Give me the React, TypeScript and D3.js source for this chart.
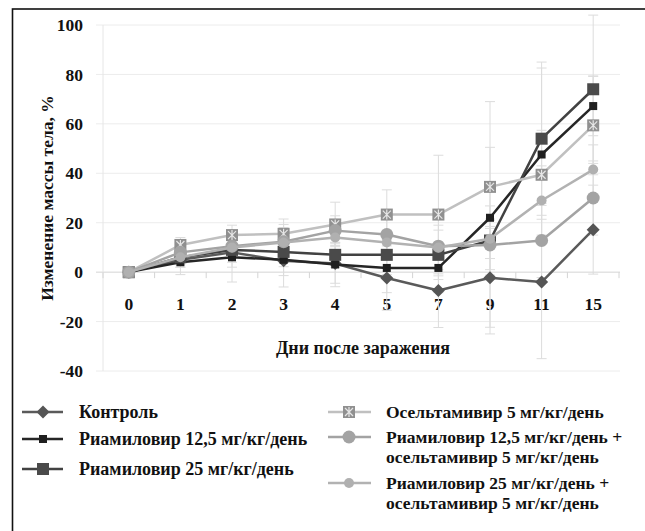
import React from "react";
import * as d3 from "d3";

const days = ["0", "1", "2", "3", "4", "5", "7", "9", "11", "15"];
const yTicks = [-40, -20, 0, 20, 40, 60, 80, 100];

const controlVals = [0, 5, 8, 4.6, 3.5, -2.4, -7.4, -2.3, -4, 17.2];
const riam125Vals = [0, 4, 6, 5, 3.1, 1.7, 1.7, 22, 47.6, 67.2];
const riam25Vals = [0, 6, 9, 8.2, 7, 7, 7, 12.8, 54, 74];
const oselVals = [0, 11, 15, 15.5, 19.3, 23.3, 23.3, 34.5, 39.4, 59.4];
const comb125Vals = [0, 8, 10.5, 12.3, 16.8, 15.2, 10.5, 11, 12.8, 30];
const comb25Vals = [0, 6, 10, 12, 14, 12, 10, 13.5, 29, 41.5];

const controlErr = [0, 3, 6, 6, 8, 13, 15, 20, 31, 18];
const riam125Err = [0, 5, 10, 11, 9, 10, 10, 47, 35, 12];
const riam25Err = [0, 4, 5, 6, 5, 8, 10, 14, 31, 30];
const oselErr = [0, 3, 4, 6, 9, 10, 24, 16, 18, 20];
const comb125Err = [0, 4, 5, 7, 6, 8, 12, 10, 15, 15];
const comb25Err = [0, 3, 4, 6, 5, 5, 9, 8, 14, 10];

const seriesNames = [
  ["Контроль"],
  ["Риамиловир 12,5 мг/кг/день"],
  ["Риамиловир 25 мг/кг/день"],
  ["Осельтамивир 5 мг/кг/день"],
  ["Риамиловир 12,5 мг/кг/день +", "осельтамивир 5 мг/кг/день"],
  ["Риамиловир 25 мг/кг/день +", "осельтамивир 5 мг/кг/день"],
];

type Series = {
  name: string[];
  vals: number[];
  err: number[];
  line: string;
  fill: string;
  marker: "diamond" | "sqSmall" | "sqBig" | "osel" | "circBig" | "circSmall";
};

const series: Series[] = [
  { name: seriesNames[0], vals: controlVals, err: controlErr, line: "#5a5a5a", fill: "#555555", marker: "diamond" },
  { name: seriesNames[1], vals: riam125Vals, err: riam125Err, line: "#262626", fill: "#1f1f1f", marker: "sqSmall" },
  { name: seriesNames[2], vals: riam25Vals, err: riam25Err, line: "#424242", fill: "#4a4a4a", marker: "sqBig" },
  { name: seriesNames[3], vals: oselVals, err: oselErr, line: "#c0c0c0", fill: "#909090", marker: "osel" },
  { name: seriesNames[4], vals: comb125Vals, err: comb125Err, line: "#a3a3a3", fill: "#a3a3a3", marker: "circBig" },
  { name: seriesNames[5], vals: comb25Vals, err: comb25Err, line: "#b2b2b2", fill: "#b0b0b0", marker: "circSmall" },
];

const FONT = "'Liberation Serif', 'Times New Roman', serif";

function Marker({ type, x, y, fill }: { type: Series["marker"]; x: number; y: number; fill: string }) {
  switch (type) {
    case "diamond": {
      const r = 6.5;
      return <path d={`M${x},${y - r}L${x + r},${y}L${x},${y + r}L${x - r},${y}Z`} fill={fill} />;
    }
    case "sqSmall":
      return <rect x={x - 4} y={y - 4} width={8} height={8} fill={fill} />;
    case "sqBig":
      return <rect x={x - 6} y={y - 6} width={12} height={12} fill={fill} />;
    case "osel": {
      const s = 6;
      const k = 4;
      return (
        <g>
          <rect x={x - s} y={y - s} width={2 * s} height={2 * s} fill={fill} />
          <path
            d={`M${x - k},${y - k}L${x + k},${y + k}M${x + k},${y - k}L${x - k},${y + k}M${x},${y - k - 1}L${x},${y + k + 1}`}
            stroke="#e6e6e6"
            strokeWidth={1.2}
            fill="none"
          />
        </g>
      );
    }
    case "circBig":
      return <circle cx={x} cy={y} r={6.5} fill={fill} />;
    case "circSmall":
      return <circle cx={x} cy={y} r={5} fill={fill} />;
  }
}

export default function App() {
  const W = 645;
  const H = 531;
  const x = d3.scaleBand<string>().domain(days).range([103, 619]).padding(0);
  const y = d3.scaleLinear().domain([-40, 100]).range([371, 25]);
  const cx = (d: string) => (x(d) as number) + x.bandwidth() / 2;
  const lineGen = d3
    .line<number>()
    .x((_, i) => cx(days[i]))
    .y((v) => y(v));

  const boundaries = d3.range(days.length + 1).map((i) => 103 + i * x.bandwidth());

  const legendLeft = [0, 1, 2];
  const legendRight = [3, 4, 5];
  const leftRowY = [412, 439, 469];
  const rightRowY = [412, 437, 483];

  return (
    <svg
      width={W}
      height={H}
      style={{ position: "absolute", left: 0, top: 0, background: "#fff" }}
      fontFamily={FONT}
    >
      <rect x={0} y={0} width={W} height={H} fill="#fff" />
      <rect x={12.5} y={9} width={W + 10} height={H + 10} fill="none" stroke="#111" strokeWidth={1.6} />

      {/* gridlines */}
      {yTicks.map((t) => (
        <line key={t} x1={96} x2={620} y1={y(t)} y2={y(t)} stroke={t === 0 ? "#d4d4d4" : "#ececec"} strokeWidth={1} />
      ))}
      <line x1={103} x2={103} y1={y(100)} y2={y(-40)} stroke="#e6e6e6" strokeWidth={1} />
      {boundaries.map((b, i) => (
        <line key={i} x1={b} x2={b} y1={y(0)} y2={y(0) + 6} stroke="#d4d4d4" strokeWidth={1} />
      ))}

      {/* y tick labels */}
      {yTicks.map((t) => (
        <text key={t} x={83} y={y(t)} dy="0.35em" textAnchor="end" fontSize={17.5} fontWeight="bold" fill="#111">
          {t}
        </text>
      ))}

      {/* x tick labels */}
      {days.map((d) => (
        <text key={d} x={cx(d)} y={y(0) + 32} dy="0.35em" textAnchor="middle" fontSize={17.5} fontWeight="bold" fill="#111">
          {d}
        </text>
      ))}

      {/* axis titles */}
      <text x={363} y={348} dy="0.35em" textAnchor="middle" fontSize={18} fontWeight="bold" fill="#111">
        Дни после заражения
      </text>
      <text
        transform={`translate(47,198) rotate(-90)`}
        textAnchor="middle"
        dy="0.35em"
        fontSize={17.5}
        fontWeight="bold"
        fill="#111"
      >
        Изменение массы тела, %
      </text>

      {/* error bars */}
      {series.map((s, si) => (
        <g key={si}>
          {s.vals.map((v, i) =>
            s.err[i] > 0 ? (
              <g key={i} stroke="#dcdcdc" strokeWidth={1}>
                <line x1={cx(days[i])} x2={cx(days[i])} y1={y(v - s.err[i])} y2={y(v + s.err[i])} />
                <line x1={cx(days[i]) - 5} x2={cx(days[i]) + 5} y1={y(v - s.err[i])} y2={y(v - s.err[i])} />
                <line x1={cx(days[i]) - 5} x2={cx(days[i]) + 5} y1={y(v + s.err[i])} y2={y(v + s.err[i])} />
              </g>
            ) : null
          )}
        </g>
      ))}

      {/* series */}
      {series.map((s, si) => (
        <g key={si}>
          <path d={lineGen(s.vals) || ""} fill="none" stroke={s.line} strokeWidth={2.5} strokeLinejoin="round" />
          {s.vals.map((v, i) => (
            <Marker key={i} type={s.marker} x={cx(days[i])} y={y(v)} fill={s.fill} />
          ))}
        </g>
      ))}

      {/* legend */}
      {legendLeft.map((si, r) => {
        const s = series[si];
        const ly = leftRowY[r];
        return (
          <g key={si}>
            <line x1={22} x2={63} y1={ly} y2={ly} stroke={s.line} strokeWidth={2.5} />
            <Marker type={s.marker} x={43} y={ly} fill={s.fill} />
            <text x={79} y={ly} dy="0.35em" fontSize={18} fontWeight="bold" fill="#111">
              {s.name[0]}
            </text>
          </g>
        );
      })}
      {legendRight.map((si, r) => {
        const s = series[si];
        const ly = rightRowY[r];
        return (
          <g key={si}>
            <line x1={328} x2={371} y1={ly} y2={ly} stroke={s.line} strokeWidth={2.5} />
            <Marker type={s.marker} x={349} y={ly} fill={s.fill} />
            {s.name.map((n, k) => (
              <text key={k} x={386} y={ly + k * 19.5} dy="0.35em" fontSize={17.5} fontWeight="bold" fill="#111">
                {n}
              </text>
            ))}
          </g>
        );
      })}
    </svg>
  );
}
